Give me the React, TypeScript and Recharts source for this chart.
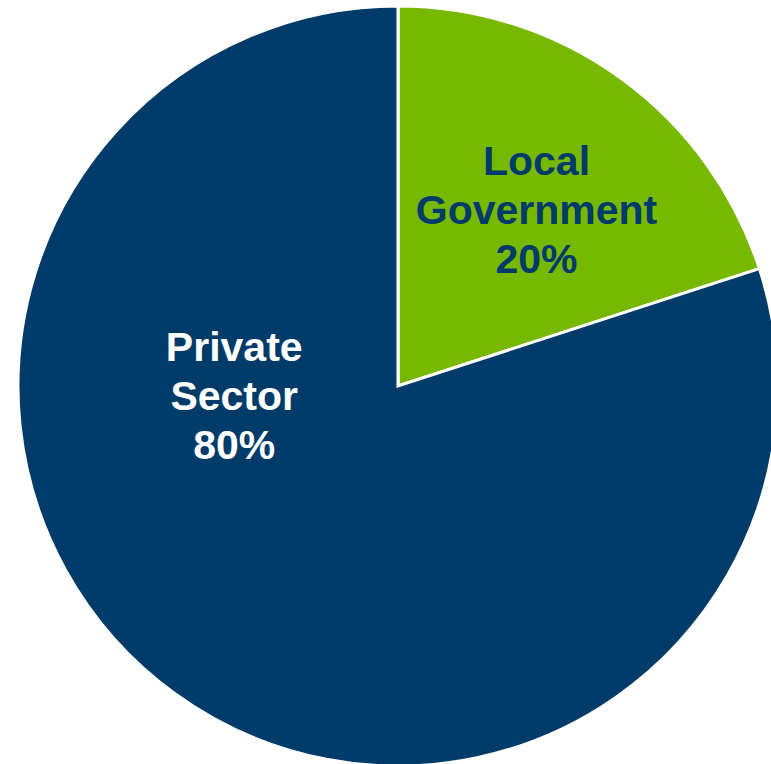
import { PieChart, Pie, Cell } from "recharts"

const sectors = ["Local Government", "Private Sector"]
const shares = [20, 80]
const labelLines = [
  ["Local", "Government", "20%"],
  ["Private", "Sector", "80%"],
]

const colors = ["#77b800", "#003b69"]
const labelColors = ["#003b69", "#ffffff"]
// where each label block sits, in degrees and pixels from the centre
const labelSpots = [
  { angle: 52, radius: 225 },
  { angle: 183, radius: 164 },
]

const data = sectors.map((name, i) => ({ name, value: shares[i] }))

const RADIAN = Math.PI / 180

function renderLabel(props: any) {
  const { cx, cy, index } = props
  const spot = labelSpots[index]
  const x = cx + spot.radius * Math.cos(spot.angle * RADIAN)
  const y = cy - spot.radius * Math.sin(spot.angle * RADIAN)
  const lines = labelLines[index]
  const lineHeight = 49
  return (
    <text
      x={x}
      y={y}
      fill={labelColors[index]}
      textAnchor="middle"
      fontFamily="'Liberation Sans', Arial, sans-serif"
      fontWeight="bold"
      fontSize={41}
    >
      {lines.map((line, i) => (
        <tspan key={i} x={x} y={y + (i - 1) * lineHeight + 15}>
          {line}
        </tspan>
      ))}
    </text>
  )
}

export default function App() {
  return (
    <div style={{ position: "absolute", left: 0, top: 0, width: 771, height: 764, overflow: "hidden" }}>
      <PieChart width={771} height={764} margin={{ top: 0, right: 0, bottom: 0, left: 0 }}>
        <Pie
          data={data}
          dataKey="value"
          nameKey="name"
          cx={398}
          cy={386}
          outerRadius={380}
          startAngle={90}
          endAngle={-270}
          stroke="#ffffff"
          strokeWidth={3}
          label={renderLabel}
          labelLine={false}
          isAnimationActive={false}
        >
          {data.map((entry, i) => (
            <Cell key={entry.name} fill={colors[i]} />
          ))}
        </Pie>
      </PieChart>
    </div>
  )
}
